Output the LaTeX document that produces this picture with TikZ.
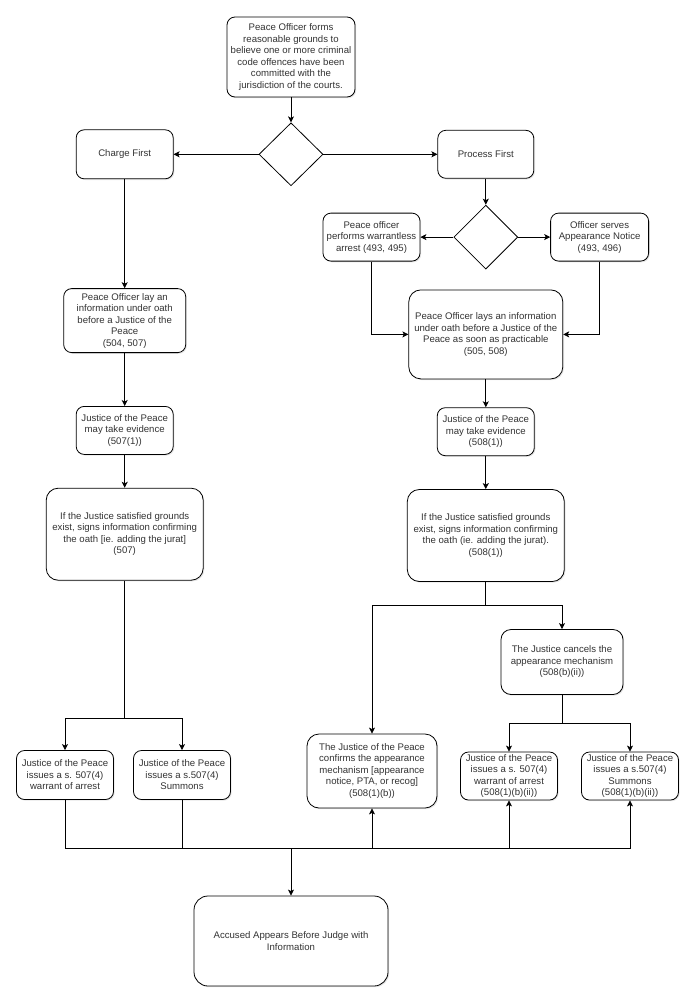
\documentclass[tikz,border=0pt]{standalone}
\usepackage{fontspec}
\setmainfont{Liberation Sans}
\usetikzlibrary{arrows.meta, positioning, shapes.geometric, shadows}

\begin{document}
\begin{tikzpicture}[->,>={Stealth[length=6pt,width=6pt,inset=1.5pt]},x=1pt,y=-1pt,line width=0.8pt]
  \tikzset{every node/.style={font=\fontsize{9.6}{11.5}\selectfont, text=black!80},
    box/.style={draw, rounded corners=8pt, fill=white, align=center, inner sep=0pt,
      drop shadow={shadow xshift=1.2pt, shadow yshift=-1.2pt, opacity=0.2}},
    choice/.style={draw, diamond, fill=white, minimum width=64pt, minimum height=63pt, inner sep=0pt}}
  \useasboundingbox (0,0) rectangle (700,1007);
  % top of the chart
  \node[box, minimum width=128pt, minimum height=80pt] (start) at (291,57) {Peace Officer forms\\reasonable grounds to\\believe one or more criminal\\code offences have been\\committed with the\\jurisdiction of the courts.};
  \node[choice] (dec1) [below=25pt of start] {};
  \node[box, minimum width=97pt, minimum height=49pt] (charge) [left=85pt of dec1] {Charge First};
  \node[box, minimum width=96pt, minimum height=48pt] (process) [right=114pt of dec1] {Process First};
  % charge first
  \node[box, minimum width=122pt, minimum height=64pt] (lay) [below=109pt of charge] {Peace Officer lay an\\information under oath\\before a Justice of the\\Peace\\(504, 507)};
  \node[box, minimum width=97pt, minimum height=48pt] (evL) [below=53pt of lay] {Justice of the Peace\\may take evidence\\(507(1))};
  \node[box, rounded corners=12pt, minimum width=157pt, minimum height=92pt] (satL) [below=33pt of evL] {If the Justice satisfied grounds\\exist, signs information confirming\\the oath [ie. adding the jurat]\\(507)};
  \node[box, minimum width=97pt, minimum height=49pt] (warL) at (65,775) {Justice of the Peace\\issues a s. 507(4)\\warrant of arrest};
  \node[box, minimum width=97pt, minimum height=49pt] (sumL) at (182,775) {Justice of the Peace\\issues a s.507(4)\\Summons};
  % process first
  \node[choice, minimum height=64pt] (dec2) [below=26pt of process] {};
  \node[box, minimum width=97pt, minimum height=48pt] (arrest) [left=33pt of dec2] {Peace officer\\performs warrantless\\arrest (493, 495)};
  \node[box, minimum width=98pt, minimum height=48pt] (notice) [right=32pt of dec2] {Officer serves\\Appearance Notice\\(493, 496)};
  \node[box, rounded corners=12pt, minimum width=154pt, minimum height=89pt] (layinfo) [below=20pt of dec2] {Peace Officer lays an information\\under oath before a Justice of the\\Peace as soon as practicable\\(505, 508)};
  \node[box, minimum width=97pt, minimum height=48pt] (evR) [below=28pt of layinfo] {Justice of the Peace\\may take evidence\\(508(1))};
  \node[box, rounded corners=12pt, minimum width=157pt, minimum height=92pt] (satR) [below=33pt of evR] {If the Justice satisfied grounds\\exist, signs information confirming\\the oath (ie. adding the jurat).\\(508(1))};
  \node[box, rounded corners=12pt, minimum width=130pt, minimum height=74pt] (confirm) at (372,771) {The Justice of the Peace\\confirms the appearance\\mechanism [appearance\\notice, PTA, or recog]\\(508(1)(b))};
  \node[box, rounded corners=10pt, minimum width=122pt, minimum height=65pt] (cancel) at (562,662) {The Justice cancels the\\appearance mechanism\\(508(b)(ii))};
  \node[box, minimum width=97pt, minimum height=48pt] (warR) at (509,776) {Justice of the Peace\\issues a s. 507(4)\\warrant of arrest\\(508(1)(b)(ii))};
  \node[box, minimum width=97pt, minimum height=48pt] (sumR) at (630,776) {Justice of the Peace\\issues a s.507(4)\\Summons\\(508(1)(b)(ii))};
  % end
  \node[box, rounded corners=14pt, minimum width=194pt, minimum height=90pt] (accused) at (291,941) {Accused Appears Before Judge with\\Information};
  \coordinate (jL) at (satL |- 0,718);
  \coordinate (jR) at (satR |- 0,605);
  \coordinate (jC) at (cancel |- 0,723);
  \coordinate (bus) at (291,848);

  \path (start) edge (dec1);
  \path (dec1) edge (charge);
  \path (dec1) edge (process);
  \path (charge) edge (lay);
  \path (lay) edge (evL);
  \path (evL) edge (satL);
  \path (process) edge (dec2);
  \path (dec2) edge (arrest);
  \path (dec2) edge (notice);
  \draw (arrest) |- (layinfo);
  \draw (notice) |- (layinfo);
  \path (layinfo) edge (evR);
  \path (evR) edge (satR);
  \draw[-] (satL) -- (jL);
  \draw (jL) -| (warL);
  \draw (jL) -| (sumL);
  \draw[-] (satR) -- (jR);
  \draw (jR) -| (confirm);
  \draw (jR) -| (cancel);
  \draw[-] (cancel) -- (jC);
  \draw (jC) -| (warR);
  \draw (jC) -| (sumR);
  \draw[-] (warL) |- (bus);
  \draw[-] (sumL) |- (bus);
  \draw (bus) -- (accused);
  \draw (bus) -| (confirm);
  \draw (bus) -| (warR);
  \draw (bus) -| (sumR);
\end{tikzpicture}
\end{document}
